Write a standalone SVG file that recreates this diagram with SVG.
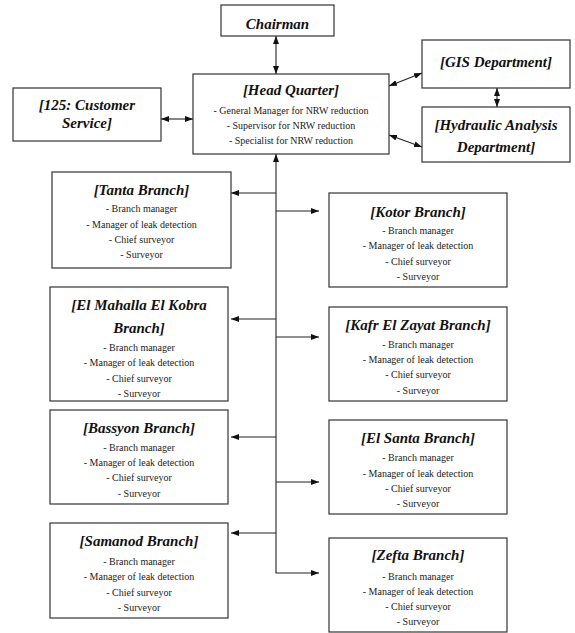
<svg xmlns="http://www.w3.org/2000/svg" width="575" height="633" viewBox="0 0 575 633">
<style>
.box{fill:#fff;stroke:#333;stroke-width:1.2}
.t{font-family:"Liberation Serif","Times New Roman",serif;font-weight:bold;font-style:italic;font-size:15px;text-anchor:middle;fill:#111}
.s{font-family:"Liberation Serif","Times New Roman",serif;font-size:10px;text-anchor:middle;fill:#222}
.c{stroke:#222;stroke-width:1.1;fill:none}
</style>
<defs>
<marker id="ah" viewBox="0 0 8 6" refX="8" refY="3" markerWidth="8" markerHeight="6" markerUnits="userSpaceOnUse" orient="auto-start-reverse">
<path d="M0,0 L8,3 L0,6 z" fill="#111"/>
</marker>
</defs>
<rect width="575" height="633" fill="#fff"/>
<g id="connectors">
<line class="c" x1="276" y1="36" x2="276" y2="74" marker-start="url(#ah)" marker-end="url(#ah)"/>
<line class="c" x1="389" y1="86" x2="422" y2="73" marker-start="url(#ah)" marker-end="url(#ah)"/>
<line class="c" x1="497" y1="88" x2="497" y2="107" marker-start="url(#ah)" marker-end="url(#ah)"/>
<line class="c" x1="389" y1="135" x2="422" y2="147" marker-start="url(#ah)" marker-end="url(#ah)"/>
<line class="c" x1="161" y1="119" x2="193" y2="119" marker-start="url(#ah)" marker-end="url(#ah)"/>
<line class="c" x1="276" y1="573" x2="276" y2="154" marker-end="url(#ah)"/>
<line class="c" x1="276" y1="193" x2="231" y2="193" marker-end="url(#ah)"/>
<line class="c" x1="276" y1="319" x2="231" y2="319" marker-end="url(#ah)"/>
<line class="c" x1="276" y1="437" x2="231" y2="437" marker-end="url(#ah)"/>
<line class="c" x1="276" y1="533" x2="231" y2="533" marker-end="url(#ah)"/>
<line class="c" x1="276" y1="211" x2="319" y2="211" marker-end="url(#ah)"/>
<line class="c" x1="276" y1="337" x2="319" y2="337" marker-end="url(#ah)"/>
<line class="c" x1="276" y1="482" x2="319" y2="482" marker-end="url(#ah)"/>
<line class="c" x1="275.5" y1="573" x2="319" y2="573" marker-end="url(#ah)"/>
</g>
<g id="chairman">
<rect class="box" x="221" y="5" width="113" height="31"/>
<text class="t" x="277.5" y="29">Chairman</text>
</g>
<g id="hq">
<rect class="box" x="193" y="74" width="196" height="80"/>
<text class="t" x="291" y="95">[Head Quarter]</text>
<text class="s" x="291" y="113.5">- General Manager for NRW reduction</text>
<text class="s" x="291" y="128.5">- Supervisor for NRW reduction</text>
<text class="s" x="291" y="143.5">- Specialist for NRW reduction</text>
</g>
<g id="gis">
<rect class="box" x="422" y="40" width="148" height="48"/>
<text class="t" x="496" y="67">[GIS Department]</text>
</g>
<g id="hydraulic">
<rect class="box" x="422" y="107" width="148" height="55"/>
<text class="t" x="496" y="130">[Hydraulic Analysis</text>
<text class="t" x="496" y="152">Department]</text>
</g>
<g id="customer">
<rect class="box" x="13" y="88" width="148" height="53"/>
<text class="t" x="87" y="110">[125: Customer</text>
<text class="t" x="87" y="128">Service]</text>
</g>
<g id="tanta">
<rect class="box" x="52" y="172" width="179" height="96"/>
<text class="t" x="141.5" y="195">[Tanta Branch]</text>
<text class="s" x="141.5" y="211.5">- Branch manager</text>
<text class="s" x="141.5" y="227.5">- Manager of leak detection</text>
<text class="s" x="141.5" y="242.5">- Chief surveyor</text>
<text class="s" x="141.5" y="257.5">- Surveyor</text>
</g>
<g id="kotor">
<rect class="box" x="329" y="193" width="178" height="94"/>
<text class="t" x="418" y="217">[Kotor Branch]</text>
<text class="s" x="418" y="233.5">- Branch manager</text>
<text class="s" x="418" y="248.5">- Manager of leak detection</text>
<text class="s" x="418" y="264.5">- Chief surveyor</text>
<text class="s" x="418" y="279.5">- Surveyor</text>
</g>
<g id="mahalla">
<rect class="box" x="50" y="287" width="178" height="114"/>
<text class="t" x="139" y="310">[El Mahalla El Kobra</text>
<text class="t" x="139" y="333">Branch]</text>
<text class="s" x="139" y="350.5">- Branch manager</text>
<text class="s" x="139" y="365.5">- Manager of leak detection</text>
<text class="s" x="139" y="381.5">- Chief surveyor</text>
<text class="s" x="139" y="396.5">- Surveyor</text>
</g>
<g id="kafr">
<rect class="box" x="329" y="307" width="178" height="94"/>
<text class="t" x="418" y="330">[Kafr El Zayat Branch]</text>
<text class="s" x="418" y="347.5">- Branch manager</text>
<text class="s" x="418" y="362.5">- Manager of leak detection</text>
<text class="s" x="418" y="377.5">- Chief surveyor</text>
<text class="s" x="418" y="393.5">- Surveyor</text>
</g>
<g id="bassyon">
<rect class="box" x="50" y="410" width="178" height="94"/>
<text class="t" x="139" y="433">[Bassyon Branch]</text>
<text class="s" x="139" y="450.5">- Branch manager</text>
<text class="s" x="139" y="465.5">- Manager of leak detection</text>
<text class="s" x="139" y="480.5">- Chief surveyor</text>
<text class="s" x="139" y="496.5">- Surveyor</text>
</g>
<g id="elsanta">
<rect class="box" x="329" y="420" width="178" height="94"/>
<text class="t" x="418" y="443">[El Santa Branch]</text>
<text class="s" x="418" y="460.5">- Branch manager</text>
<text class="s" x="418" y="476.5">- Manager of leak detection</text>
<text class="s" x="418" y="491.5">- Chief surveyor</text>
<text class="s" x="418" y="506.5">- Surveyor</text>
</g>
<g id="samanod">
<rect class="box" x="50" y="523" width="178" height="95"/>
<text class="t" x="139" y="546">[Samanod Branch]</text>
<text class="s" x="139" y="564.5">- Branch manager</text>
<text class="s" x="139" y="579.5">- Manager of leak detection</text>
<text class="s" x="139" y="595.5">- Chief surveyor</text>
<text class="s" x="139" y="610.5">- Surveyor</text>
</g>
<g id="zefta">
<rect class="box" x="329" y="538" width="178" height="94"/>
<text class="t" x="418" y="560">[Zefta Branch]</text>
<text class="s" x="418" y="579.5">- Branch manager</text>
<text class="s" x="418" y="594.5">- Manager of leak detection</text>
<text class="s" x="418" y="609.5">- Chief surveyor</text>
<text class="s" x="418" y="624.5">- Surveyor</text>
</g>
</svg>
